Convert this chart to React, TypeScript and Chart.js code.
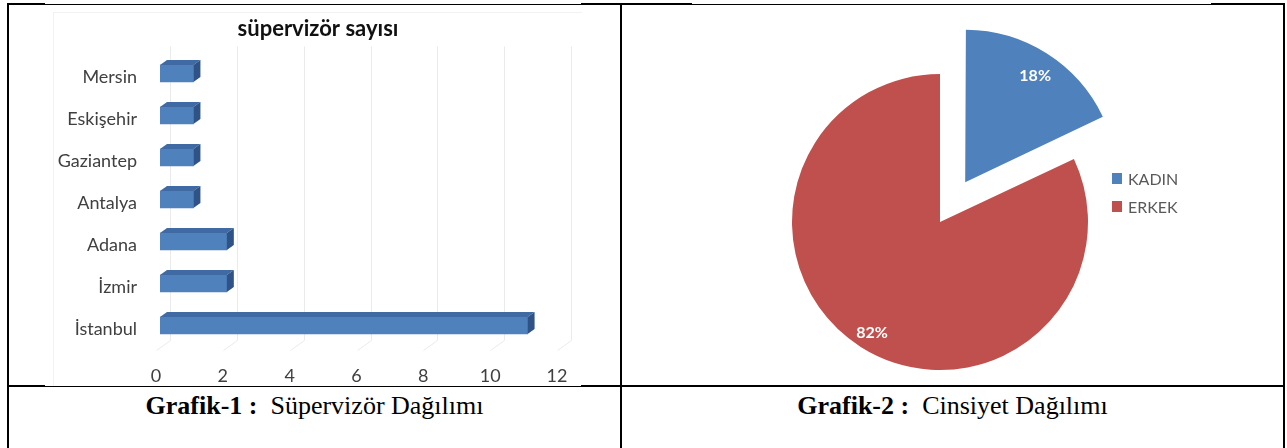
import React, { useEffect, useRef } from "react";
import { Chart, registerables } from "chart.js";

Chart.register(...registerables);

// ---- data ----
const cities = ["Mersin", "Eskişehir", "Gaziantep", "Antalya", "Adana", "İzmir", "İstanbul"];
const supervisorCounts = [1, 1, 1, 1, 2, 2, 11];
const xTicks = [0, 2, 4, 6, 8, 10, 12];
const barTitle = "süpervizör sayısı";

const genders = ["KADIN", "ERKEK"];
const genderShares = [18, 82];
const genderColors = ["#4F81BD", "#C0504D"];
const explodeOffsets = [188, 0];

const caption1Bold = "Grafik-1 :";
const caption1Text = "Süpervizör Dağılımı";
const caption2Bold = "Grafik-2 :";
const caption2Text = "Cinsiyet Dağılımı";

const FONT = "Lato, 'Open Sans', 'DejaVu Sans', sans-serif";

const bar3d = {
  id: "bar3d",
  beforeDatasetsDraw(chart: any) {
    const { ctx, chartArea, scales } = chart;
    const xs = scales.x;
    ctx.save();
    ctx.strokeStyle = "#ebebeb";
    ctx.lineWidth = 1;
    xTicks.forEach((v) => {
      const p = Math.round(xs.getPixelForValue(v)) + 0.5;
      ctx.beginPath();
      ctx.moveTo(p - 4, chartArea.bottom + 4);
      ctx.lineTo(p + 10, chartArea.bottom - 6);
      ctx.lineTo(p + 10, chartArea.top - 6);
      ctx.stroke();
    });
    ctx.restore();
  },
  afterDatasetsDraw(chart: any) {
    const { ctx } = chart;
    const meta = chart.getDatasetMeta(0);
    const dx = 7;
    const dy = -5;
    ctx.save();
    meta.data.forEach((bar: any) => {
      const { x, y, base, height } = bar.getProps(["x", "y", "base", "height"], true);
      const top = y - height / 2;
      const bottom = y + height / 2;
      ctx.fillStyle = "#3F6AA3";
      ctx.beginPath();
      ctx.moveTo(base, top);
      ctx.lineTo(x, top);
      ctx.lineTo(x + dx, top + dy);
      ctx.lineTo(base + dx, top + dy);
      ctx.closePath();
      ctx.fill();
      ctx.fillStyle = "#2F5386";
      ctx.beginPath();
      ctx.moveTo(x, top);
      ctx.lineTo(x + dx, top + dy);
      ctx.lineTo(x + dx, bottom + dy);
      ctx.lineTo(x, bottom);
      ctx.closePath();
      ctx.fill();
    });
    ctx.restore();
  },
};

const pieLabels = {
  id: "pieLabels",
  afterDatasetsDraw(chart: any) {
    const { ctx } = chart;
    const meta = chart.getDatasetMeta(0);
    ctx.save();
    ctx.fillStyle = "#ffffff";
    ctx.font = `bold 16px ${FONT}`;
    ctx.textAlign = "center";
    ctx.textBaseline = "middle";
    meta.data.forEach((arc: any, i: number) => {
      const { x, y, startAngle, endAngle, outerRadius } = arc.getProps(
        ["x", "y", "startAngle", "endAngle", "outerRadius"],
        true
      );
      const mid = (startAngle + endAngle) / 2;
      const off = (arc.options.offset || 0) / 4;
      const r = off + outerRadius * 0.87;
      ctx.fillText(`${genderShares[i]}%`, x + Math.cos(mid) * r + 1, y + Math.sin(mid) * r + 2);
    });
    ctx.restore();
  },
};

function BarChart() {
  const ref = useRef<HTMLCanvasElement>(null);
  useEffect(() => {
    if (!ref.current) return;
    const tickFont = { family: FONT, size: 18 };
    const chart = new Chart(ref.current, {
      type: "bar",
      data: {
        labels: cities,
        datasets: [
          {
            data: supervisorCounts,
            backgroundColor: "#4F81BD",
            borderWidth: 0,
            barThickness: 17,
          },
        ],
      },
      options: {
        indexAxis: "y",
        animation: false,
        responsive: false,
        events: [],
        layout: { padding: { left: 7, right: 0, top: 0, bottom: 0 } },
        plugins: {
          legend: { display: false },
          tooltip: { enabled: false },
          title: {
            display: true,
            text: barTitle,
            color: "#111111",
            font: { family: FONT, size: 22, weight: "bold" },
            padding: { top: 9.8, bottom: 10.3 },
          },
        },
        scales: {
          x: {
            min: 0,
            max: 12,
            afterBuildTicks: (s: any) => {
              s.ticks = xTicks.map((v) => ({ value: v }));
            },
            afterFit: (s: any) => {
              s.height = 37.5;
            },
            grid: { display: false, drawTicks: false },
            border: { display: false },
            ticks: { padding: 19, labelOffset: -4, font: tickFont, color: "#404040" },
          },
          y: {
            afterFit: (s: any) => {
              s.width = 143;
            },
            grid: { display: false, drawTicks: false },
            border: { display: false },
            ticks: { padding: 23, labelOffset: 3.5, font: tickFont, color: "#404040" },
          },
          spacer: {
            type: "linear",
            position: "right",
            display: true,
            afterFit: (s: any) => {
              s.width = 58;
            },
            grid: { display: false, drawTicks: false },
            border: { display: false },
            ticks: { display: false },
          },
        },
      } as any,
      plugins: [bar3d],
    });
    return () => chart.destroy();
  }, []);
  return (
    <canvas
      ref={ref}
      width={609}
      height={378}
      style={{ position: "absolute", left: 10, top: 6, width: 609, height: 378 }}
    />
  );
}

function PieChart() {
  const ref = useRef<HTMLCanvasElement>(null);
  useEffect(() => {
    if (!ref.current) return;
    const chart = new Chart(ref.current, {
      type: "pie",
      data: {
        labels: genders,
        datasets: [
          {
            data: genderShares,
            backgroundColor: genderColors,
            borderWidth: 0,
            offset: explodeOffsets,
            hoverOffset: 0,
            radius: 148,
            clip: false,
          } as any,
        ],
      },
      options: {
        animation: false,
        responsive: false,
        events: [],
        layout: { padding: { left: 0, right: 26, top: 54, bottom: 0 } },
        plugins: { legend: { display: false }, tooltip: { enabled: false } },
      } as any,
      plugins: [pieLabels],
    });
    return () => chart.destroy();
  }, []);
  return (
    <canvas
      ref={ref}
      width={660}
      height={378}
      style={{ position: "absolute", left: 623, top: 6, width: 660, height: 378 }}
    />
  );
}

function Line(props: { l: number; t: number; w: number; h: number }) {
  return (
    <div
      style={{
        position: "absolute",
        left: props.l,
        top: props.t,
        width: props.w,
        height: props.h,
        background: "#000",
      }}
    />
  );
}

export default function App() {
  const legendTops = [173, 201];
  return (
    <div
      style={{
        position: "absolute",
        left: 0,
        top: 0,
        width: 1287,
        height: 448,
        overflow: "hidden",
        background: "#fff",
      }}
    >
      {/* faint chart-image frame */}
      <div
        style={{
          position: "absolute",
          left: 53,
          top: 12,
          width: 528,
          height: 374,
          borderLeft: "1px solid #f2f2f2",
          borderTop: "1px solid #f2f2f2",
        }}
      />
      <BarChart />
      <PieChart />
      {/* table lines */}
      <Line l={7} t={3} w={2} h={445} />
      <Line l={620} t={3} w={2} h={445} />
      <Line l={1283} t={3} w={2} h={445} />
      <Line l={7} t={3} w={38} h={2} />
      <Line l={45} t={4} w={536} h={1} />
      <Line l={581} t={3} w={111} h={2} />
      <Line l={692} t={4} w={519} h={1} />
      <Line l={1211} t={3} w={74} h={2} />
      <Line l={7} t={385} w={38} h={2} />
      <Line l={45} t={386} w={536} h={1} />
      <Line l={581} t={385} w={704} h={2} />
      {/* legend */}
      {genders.map((g, i) => (
        <React.Fragment key={g}>
          <div
            style={{
              position: "absolute",
              left: 1112,
              top: legendTops[i],
              width: 10,
              height: 11,
              background: genderColors[i],
            }}
          />
          <div
            style={{
              position: "absolute",
              left: 1128,
              top: legendTops[i] - 2.5,
              fontFamily: FONT,
              fontSize: 16,
              lineHeight: "16px",
              color: "#595959",
              whiteSpace: "nowrap",
            }}
          >
            {g}
          </div>
        </React.Fragment>
      ))}
      {/* captions */}
      <div
        style={{
          position: "absolute",
          left: 9,
          top: 393,
          width: 611,
          textAlign: "center",
          fontFamily: "'Liberation Serif', 'Times New Roman', serif",
          fontSize: 26,
          lineHeight: "26px",
          whiteSpace: "pre",
          color: "#000",
        }}
      >
        <b>{caption1Bold}</b>
        {"  " + caption1Text}
      </div>
      <div
        style={{
          position: "absolute",
          left: 622,
          top: 393,
          width: 661,
          textAlign: "center",
          fontFamily: "'Liberation Serif', 'Times New Roman', serif",
          fontSize: 26,
          lineHeight: "26px",
          whiteSpace: "pre",
          color: "#000",
        }}
      >
        <b>{caption2Bold}</b>
        {"  " + caption2Text}
      </div>
    </div>
  );
}
